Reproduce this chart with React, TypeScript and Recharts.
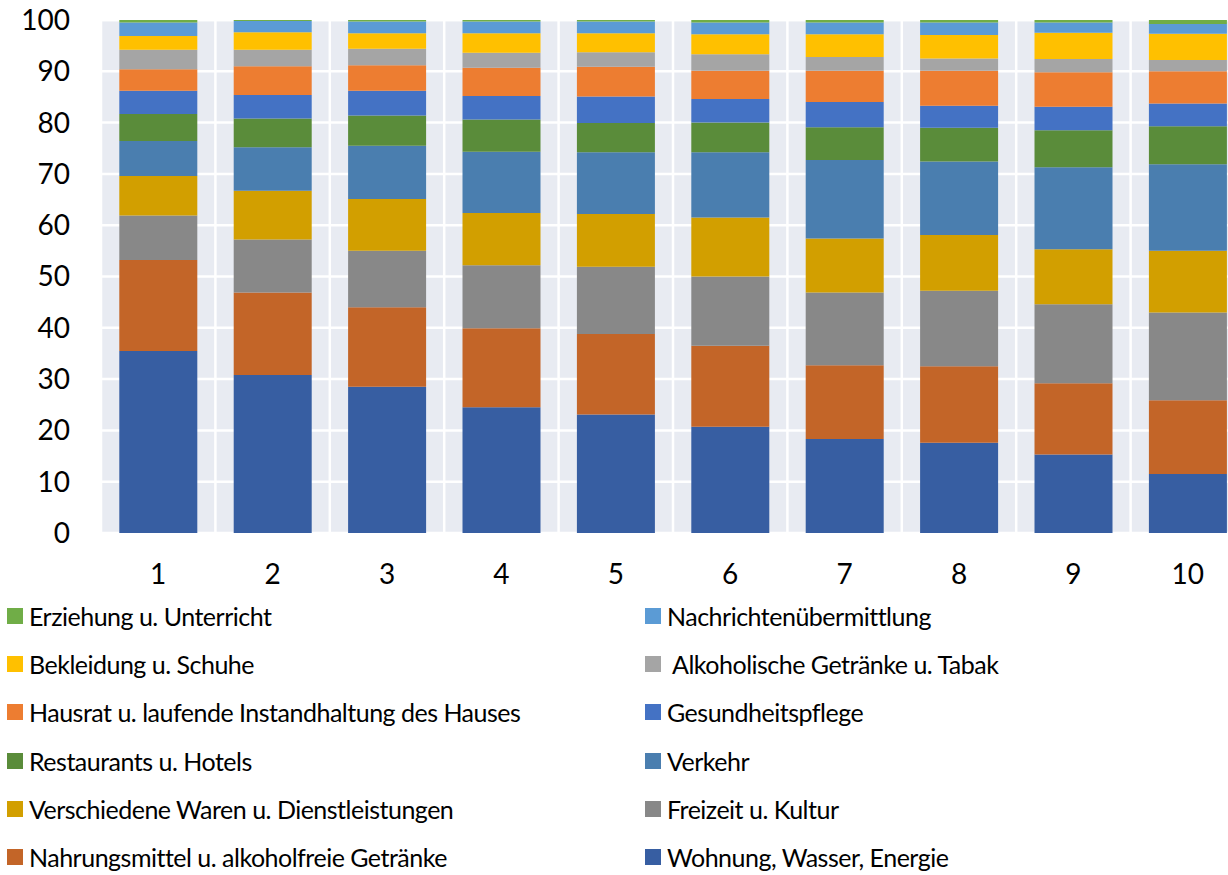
import React from 'react';
import { BarChart, Bar, XAxis, YAxis, CartesianGrid, Legend } from 'recharts';

// Einkommensdezile
const deciles = ['1', '2', '3', '4', '5', '6', '7', '8', '9', '10'];
const yTicks = [0, 10, 20, 30, 40, 50, 60, 70, 80, 90, 100];

// Anteile in % je Dezil (von unten nach oben gestapelt)
const wohnung = [35.5, 30.8, 28.5, 24.5, 23.1, 20.7, 18.3, 17.6, 15.3, 11.5];
const nahrung = [17.7, 16.1, 15.5, 15.4, 15.7, 15.8, 14.4, 14.9, 13.9, 14.4];
const freizeit = [8.7, 10.3, 11.0, 12.3, 13.1, 13.5, 14.2, 14.7, 15.4, 17.1];
const verschiedene = [7.7, 9.5, 10.1, 10.2, 10.3, 11.5, 10.5, 10.9, 10.7, 12.0];
const verkehr = [6.8, 8.5, 10.4, 11.9, 12.0, 12.7, 15.3, 14.3, 16.0, 16.9];
const restaurants = [5.3, 5.6, 5.9, 6.3, 5.7, 5.8, 6.4, 6.6, 7.2, 7.4];
const gesundheit = [4.5, 4.6, 4.8, 4.6, 5.2, 4.6, 4.9, 4.3, 4.6, 4.4];
const hausrat = [4.2, 5.6, 5.0, 5.5, 5.8, 5.5, 6.1, 6.8, 6.7, 6.3];
const alkohol = [3.8, 3.2, 3.2, 2.9, 2.8, 3.2, 2.7, 2.4, 2.6, 2.2];
const bekleidung = [2.7, 3.4, 3.0, 3.8, 3.7, 3.9, 4.4, 4.6, 5.1, 5.1];
const nachrichten = [2.6, 2.2, 2.3, 2.3, 2.3, 2.3, 2.3, 2.4, 2.0, 1.9];
const erziehung = [0.5, 0.2, 0.3, 0.3, 0.3, 0.5, 0.5, 0.5, 0.5, 0.8];

const series = [
  { key: 'wohnung', name: 'Wohnung, Wasser, Energie', color: '#375ea2', values: wohnung },
  { key: 'nahrung', name: 'Nahrungsmittel u. alkoholfreie Getränke', color: '#c36528', values: nahrung },
  { key: 'freizeit', name: 'Freizeit u. Kultur', color: '#888888', values: freizeit },
  { key: 'verschiedene', name: 'Verschiedene Waren u. Dienstleistungen', color: '#d29f00', values: verschiedene },
  { key: 'verkehr', name: 'Verkehr', color: '#4a7eaf', values: verkehr },
  { key: 'restaurants', name: 'Restaurants u. Hotels', color: '#5a8c3a', values: restaurants },
  { key: 'gesundheit', name: 'Gesundheitspflege', color: '#4472c4', values: gesundheit },
  { key: 'hausrat', name: 'Hausrat u. laufende Instandhaltung des Hauses', color: '#ed7d31', values: hausrat },
  { key: 'alkohol', name: ' Alkoholische Getränke u. Tabak', color: '#a5a5a5', values: alkohol },
  { key: 'bekleidung', name: 'Bekleidung u. Schuhe', color: '#ffc000', values: bekleidung },
  { key: 'nachrichten', name: 'Nachrichtenübermittlung', color: '#5b9bd5', values: nachrichten },
  { key: 'erziehung', name: 'Erziehung u. Unterricht', color: '#70ad47', values: erziehung },
];

const data = deciles.map((d, i) => {
  const row: Record<string, string | number> = { decile: d };
  series.forEach((s) => {
    row[s.key] = s.values[i];
  });
  return row;
});

const FONT = 'Lato, "Open Sans", sans-serif';

// Excel-Legende: zwei Spalten, Reihenfolge umgekehrt
const renderLegend = () => {
  const items = [...series].reverse();
  return (
    <div
      style={{
        height: 300,
        paddingTop: 7,
        paddingLeft: 7,
        boxSizing: 'border-box',
        display: 'grid',
        gridTemplateColumns: '638px 1fr',
        gridAutoRows: '48.2px',
        fontFamily: FONT,
        fontSize: 25,
        letterSpacing: -0.5,
        color: '#000',
      }}
    >
      {items.map((s) => (
        <div key={s.key} style={{ display: 'flex', alignItems: 'center', whiteSpace: 'pre' }}>
          <span style={{ width: 16, height: 16, background: s.color, marginRight: 6, flex: 'none' }} />
          <span>{s.name}</span>
        </div>
      ))}
    </div>
  );
};

export default function App() {
  return (
    <div
      style={{
        position: 'absolute',
        left: 0,
        top: 0,
        width: 1228,
        height: 875,
        overflow: 'hidden',
        background: '#fff',
      }}
    >
      <BarChart
        width={1250}
        height={885}
        data={data}
        margin={{ top: 20, right: 5, bottom: 0, left: 0 }}
        barCategoryGap="16%"
      >
        <CartesianGrid
          fill="#e8ebf2"
          stroke="#ffffff"
          strokeWidth={2.5}
          verticalCoordinatesGenerator={({ offset }: any) =>
            deciles.map((_, i) => offset.left + (i * offset.width) / deciles.length).concat(offset.left + offset.width)
          }
        />
        <XAxis
          dataKey="decile"
          height={52}
          axisLine={false}
          tickLine={false}
          tickMargin={25}
          tick={{ fontSize: 28, fill: '#000', fontFamily: FONT }}
        />
        <YAxis
          width={101}
          domain={[0, 100]}
          ticks={yTicks}
          interval={0}
          axisLine={false}
          tickLine={false}
          tickMargin={25}
          tick={{ fontSize: 28, fill: '#000', fontFamily: FONT }}
        />
        <Legend verticalAlign="bottom" align="left" content={renderLegend} />
        {series.map((s) => (
          <Bar key={s.key} dataKey={s.key} name={s.name} stackId="a" fill={s.color} isAnimationActive={false} />
        ))}
      </BarChart>
    </div>
  );
}
